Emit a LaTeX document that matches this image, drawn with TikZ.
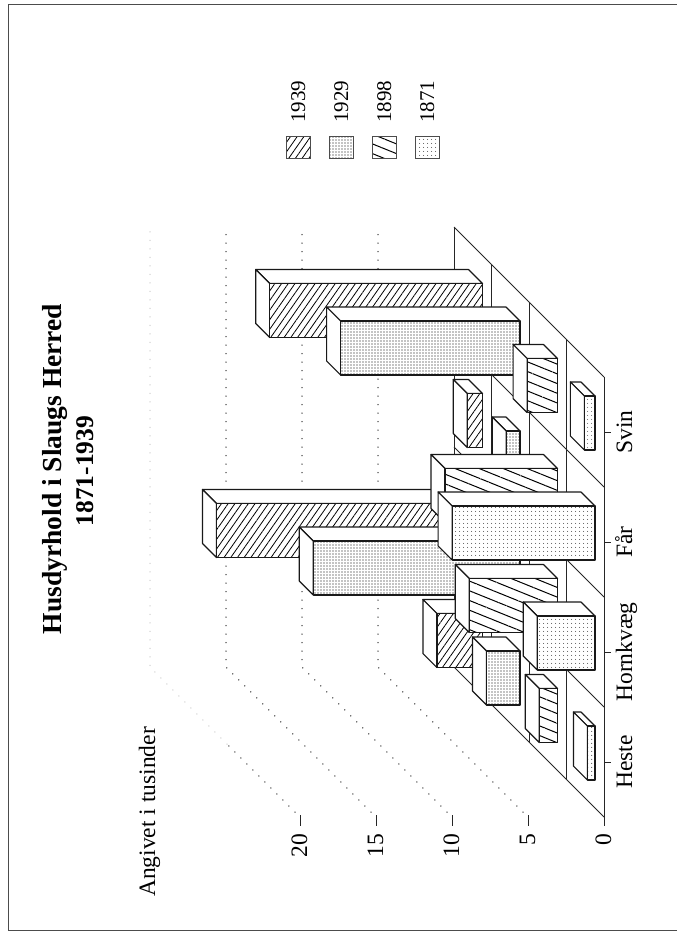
\documentclass[tikz,border=0pt]{standalone}
\usepackage{fontspec}
\setmainfont{Liberation Serif}
\usetikzlibrary{patterns.meta}

\tikzstyle{frame_line} = [draw=black!70, line width=1pt]
\tikzstyle{grid_dots} = [draw=black!75, line width=1.5pt, line cap=round, dash pattern=on 0pt off 8.5pt]
\tikzstyle{faint_dots} = [grid_dots, draw=black!18]
\tikzstyle{floor_line} = [draw=black!85, line width=1pt]
\tikzstyle{bar_side} = [draw=black!90, fill=white, line width=1.2pt, line join=round]
\tikzstyle{bar_front} = [draw=black!90, line width=1.2pt, line join=round, preaction={fill=white}]
\tikzstyle{pat_1939} = [pattern={Lines[angle=55, distance=5.5pt, line width=0.8pt]}]
\tikzstyle{pat_1929} = [pattern={Dots[distance=3pt, radius=0.6pt]}]
\tikzstyle{pat_1898} = [pattern={Lines[angle=-22, distance=9pt, line width=1pt]}]
\tikzstyle{pat_1871} = [pattern={Dots[distance=4pt, radius=0.5pt]}]
\tikzstyle{label_text} = [font=\fontsize{23.5}{26}\selectfont, inner sep=0pt, rotate=90]
\tikzstyle{key_text} = [font=\fontsize{21}{24}\selectfont, inner sep=0pt, rotate=90]

% one bar: category, row (0 = front), value, pattern
\newcommand{\drawbar}[4]{%
  \pgfmathsetmacro{\bx}{595-37.5*#2}%
  \pgfmathsetmacro{\by}{753-110*#1-37.5*#2}%
  \pgfmathsetmacro{\tx}{\bx-15.2*#3}%
  \draw[bar_side] (\tx,\by-27) -- ++(-14,-14) -- ({\bx-14},{\by-41}) -- (\bx,\by-27) -- cycle;
  \draw[bar_side] (\tx,\by-27) -- ++(-14,-14) -- ++(0,54) -- (\tx,\by+27) -- cycle;
  \draw[bar_front, #4] (\tx,\by-27) rectangle (\bx,\by+27);
}

\begin{document}
\begin{tikzpicture}[x=1pt, y=-1pt]
    \useasboundingbox (0,0) rectangle (677,935);
    \draw[frame_line] (677,4) -- (8,4) -- (8,930) -- (677,930);

    % walls
    \foreach \v in {5,10,15}
        \draw[grid_dots] ({599-15.2*\v},812) -- ({454-15.2*\v},667) -- ({454-15.2*\v},227);
    \draw[grid_dots] (295,812) -- (227,744);
    \draw[faint_dots] (227,744) -- (150,667) -- (150,227);

    % floor
    \foreach \k in {0,...,4}
        \draw[floor_line] ({604-37.5*\k},{817-37.5*\k}) -- ({604-37.5*\k},{377-37.5*\k});
    \foreach \c in {0,...,4}
        \draw[floor_line] (604,{817-110*\c}) -- (454,{667-110*\c});

    % bars, back row first
    \foreach \c/\v in {0/3.0, 1/17.5, 2/1.0, 3/14.0}
        {\drawbar{\c}{3}{\v}{pat_1939}}
    \foreach \c/\v in {0/2.2, 1/13.6, 2/0.9, 3/11.8}
        {\drawbar{\c}{2}{\v}{pat_1929}}
    \foreach \c/\v in {0/1.2, 1/5.8, 2/7.4, 3/2.0}
        {\drawbar{\c}{1}{\v}{pat_1898}}
    \foreach \c/\v in {0/0.5, 1/3.8, 2/9.4, 3/0.7}
        {\drawbar{\c}{0}{\v}{pat_1871}}

    % value axis
    \foreach \v in {0,5,10,15,20} {
        \draw[floor_line] ({604-15.2*\v},815) -- ({604-15.2*\v},826);
        \node[label_text, anchor=base east] (val\v) at ({611-15.2*\v},834) {\v};
    }

    % categories
    \foreach \c/\name in {0/Heste, 1/Hornkvæg, 2/Får, 3/Svin} {
        \draw[floor_line] (604,{762-110*\c}) -- (611,{762-110*\c});
        \node[label_text, anchor=base] (cat\c) at (632,{762-110*\c}) {\name};
    }

    \node[label_text, anchor=base] (unit) at (155,812) {Angivet i tusinder};

    % title
    \node[rotate=90, anchor=base, inner sep=0pt, font=\bfseries\fontsize{27.5}{30}\selectfont] (title) at (61,469) {Husdyrhold i Slaugs Herred};
    \node[rotate=90, anchor=base, inner sep=0pt, font=\bfseries\fontsize{25.5}{28}\selectfont] (years) at (93,471) {1871-1939};

    % legend
    \foreach \i/\yr in {0/1939, 1/1929, 2/1898, 3/1871} {
        \draw[draw=black!70, line width=1pt, preaction={fill=white}, pat_\yr] ({286+43*\i},136) rectangle ({310+43*\i},158);
        \node[key_text, anchor=base west] (key\yr) at ({305+43*\i},123) {\yr};
    }
\end{tikzpicture}
\end{document}
